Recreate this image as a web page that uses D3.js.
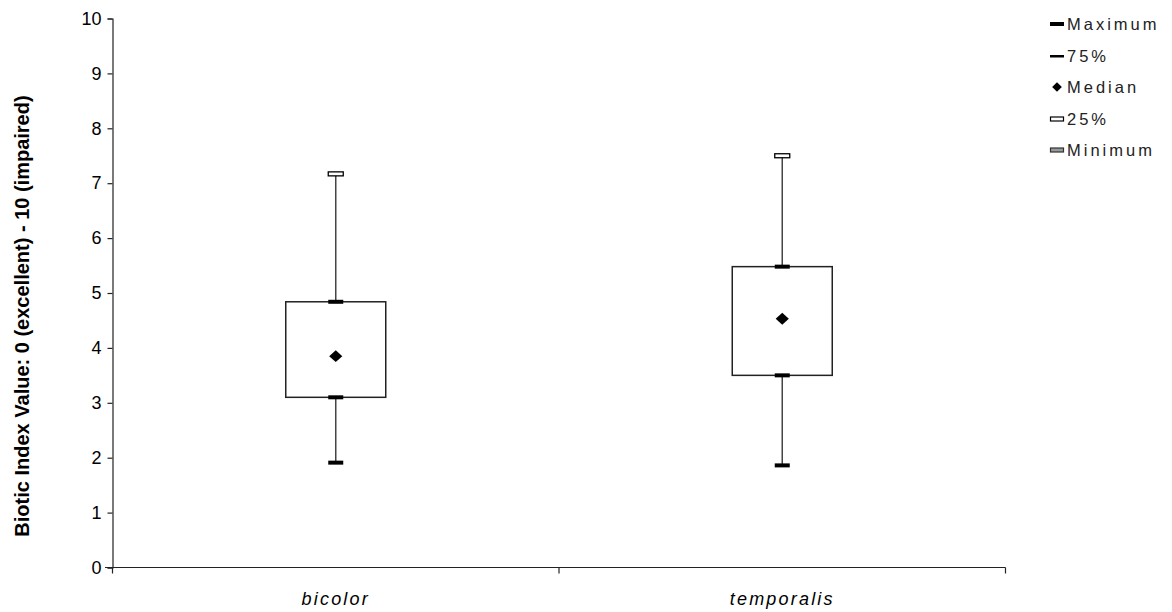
<!DOCTYPE html>
<html><head><meta charset="utf-8">
<script src="https://cdn.jsdelivr.net/npm/d3@7"></script>
<style>
body{margin:0;background:#fff;}
svg{display:block;}
</style></head>
<body>
<svg id="chart" width="1172" height="612"></svg>
<script>
const categories = ["bicolor", "temporalis"];
const maximum = [7.17, 7.50];
const q3 = [4.84, 5.48];
const median = [3.85, 4.53];
const q1 = [3.10, 3.50];
const minimum = [1.91, 1.86];
const yTicks = [0,1,2,3,4,5,6,7,8,9,10];
const legendLabels = ["Maximum", "75%", "Median", "25%", "Minimum"];

const svg = d3.select("#chart");
const x = d3.scaleBand().domain(categories).range([112.5, 1005.5]);
const y = d3.scaleLinear().domain([0, 10]).range([567.5, 18.5]);

// y axis
const yAxis = d3.axisLeft(y).tickValues(yTicks).tickSize(5).tickPadding(6).tickFormat(d3.format("d"));
const gy = svg.append("g").attr("transform", "translate(112.5,0)").call(yAxis);
gy.select(".domain").attr("stroke", "#222").attr("stroke-width", 1.2);
gy.selectAll(".tick line").attr("stroke", "#222").attr("stroke-width", 1.2);
gy.selectAll(".tick text").attr("font-family", "Liberation Sans, Arial, sans-serif").attr("font-size", 18).attr("fill", "#000");

// x axis
const gx = svg.append("g").attr("transform", "translate(0,567.5)");
gx.append("line").attr("x1", 105).attr("x2", x.range()[1]).attr("stroke", "#222").attr("stroke-width", 1.2);
const boundaries = [x.range()[0], x(categories[1]), x.range()[1]];
gx.selectAll("line.tk").data(boundaries).enter().append("line").attr("class","tk")
  .attr("x1", d => d).attr("x2", d => d).attr("y1", 0).attr("y2", 6)
  .attr("stroke", "#222").attr("stroke-width", 1.2);
gx.selectAll("text").data(categories).enter().append("text")
  .attr("x", d => x(d) + x.bandwidth()/2).attr("y", 37)
  .attr("text-anchor", "middle").attr("font-family", "Liberation Sans, Arial, sans-serif")
  .attr("font-style", "italic").attr("font-size", 18).attr("letter-spacing", 2.2)
  .attr("fill", "#000").text(d => d);

// y title
svg.append("text")
  .attr("transform", "translate(29,316) rotate(-90)")
  .attr("text-anchor", "middle")
  .attr("font-family", "Liberation Sans Narrow, Arial Narrow, Liberation Sans, sans-serif")
  .attr("font-weight", "bold").attr("font-size", 20).attr("fill", "#000")
  .text("Biotic Index Value: 0 (excellent) - 10 (impaired)");

const cx = d => x(d) + x.bandwidth()/2;
const data = categories.map((c,i) => ({c, max:maximum[i], q3:q3[i], med:median[i], q1:q1[i], min:minimum[i]}));
const g = svg.append("g");
const halfBox = 50, capW = 15;

data.forEach(d => {
  const c = cx(d.c);
  g.append("line").attr("x1", c).attr("x2", c).attr("y1", y(d.max)).attr("y2", y(d.q3)).attr("stroke", "#444").attr("stroke-width", 1.5);
  g.append("line").attr("x1", c).attr("x2", c).attr("y1", y(d.q1)).attr("y2", y(d.min)).attr("stroke", "#444").attr("stroke-width", 1.5);
  g.append("rect").attr("x", c - halfBox).attr("y", y(d.q3)).attr("width", halfBox*2).attr("height", y(d.q1) - y(d.q3))
    .attr("fill", "#fff").attr("stroke", "#222").attr("stroke-width", 1.5);
  g.append("rect").attr("x", c - capW/2).attr("y", y(d.max) - 2).attr("width", capW).attr("height", 4)
    .attr("fill", "#fff").attr("stroke", "#000").attr("stroke-width", 1.3);
  [d.q3, d.q1, d.min].forEach(v => {
    g.append("rect").attr("x", c - capW/2).attr("y", y(v) - 2).attr("width", capW).attr("height", 4).attr("fill", "#000");
  });
  g.append("path").attr("d", d3.symbol(d3.symbolDiamond2 || d3.symbolDiamond, 100)())
    .attr("transform", `translate(${c},${y(d.med)}) scale(1.05,0.95)`).attr("fill", "#000");
});

// legend
const lg = svg.append("g").attr("transform", "translate(1050,0)");
const ly = [24, 56, 87, 119, 150];
legendLabels.forEach((t, i) => {
  const yy = ly[i];
  if (i === 0) lg.append("rect").attr("x", 0).attr("y", yy - 2).attr("width", 14).attr("height", 4).attr("fill", "#000");
  if (i === 1) lg.append("rect").attr("x", 0).attr("y", yy - 1).attr("width", 14).attr("height", 2.5).attr("fill", "#000");
  if (i === 2) lg.append("path").attr("d", d3.symbol(d3.symbolDiamond2 || d3.symbolDiamond, 60)()).attr("transform", `translate(7,${yy})`).attr("fill", "#000");
  if (i === 3) lg.append("rect").attr("x", 0.5).attr("y", yy - 2).attr("width", 13).attr("height", 4).attr("fill", "#fff").attr("stroke", "#000").attr("stroke-width", 1.2);
  if (i === 4) lg.append("rect").attr("x", 0.5).attr("y", yy - 2).attr("width", 13).attr("height", 4).attr("fill", "#999").attr("stroke", "#333").attr("stroke-width", 1.2);
  lg.append("text").attr("x", 17).attr("y", yy).attr("dy", "0.36em")
    .attr("font-family", "Liberation Sans, Arial, sans-serif").attr("font-size", 16.5)
    .attr("letter-spacing", 3).attr("fill", "#222").text(t);
});
</script>
</body></html>
